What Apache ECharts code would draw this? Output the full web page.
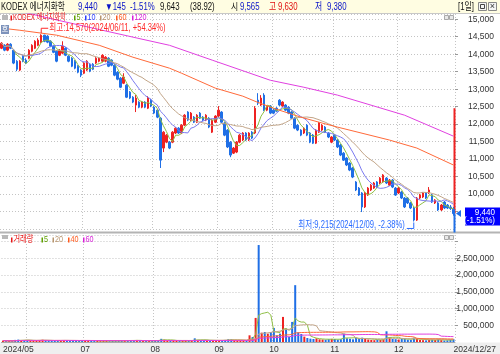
<!DOCTYPE html>
<html>
<head>
<meta charset="utf-8">
<script src="https://cdn.jsdelivr.net/npm/echarts@6/dist/echarts.min.js"></script>
<style>
html, body { margin: 0; padding: 0; background: #fff; }
#box { width: 500px; height: 354px; }
</style>
</head>
<body>
<div id="box"></div>
<script>
// 거래일 (월별)
var tradingDays = [
    { month: '2024/05', days: [22, 23, 24, 27, 28, 29, 30, 31] },
    { month: '2024/06', days: [3, 4, 5, 7, 10, 11, 12, 13, 14, 17, 18, 19, 20, 21, 24, 25, 26, 27, 28] },
    { month: '2024/07', days: [1, 2, 3, 4, 5, 8, 9, 10, 11, 12, 15, 16, 17, 18, 19, 22, 23, 24, 25, 26, 29, 30, 31] },
    { month: '2024/08', days: [1, 2, 5, 6, 7, 8, 9, 12, 13, 14, 16, 19, 20, 21, 22, 23, 26, 27, 28, 29, 30] },
    { month: '2024/09', days: [2, 3, 4, 5, 6, 9, 10, 11, 12, 13, 19, 20, 23, 24, 25, 26, 27, 30] },
    { month: '2024/10', days: [2, 4, 7, 8, 10, 11, 14, 15, 16, 17, 18, 21, 22, 23, 24, 25, 28, 29, 30, 31] },
    { month: '2024/11', days: [1, 4, 5, 6, 7, 8, 11, 12, 13, 14, 15, 18, 19, 20, 21, 22, 25, 26, 27, 28, 29] },
    { month: '2024/12', days: [2, 3, 4, 5, 6, 9, 10, 11, 12, 13, 16, 17, 18, 19, 20, 23, 24, 26, 27] }
];

// [시가, 종가, 저가, 고가]
var candles = [
    [14170, 14315, 14145, 14345], [14255, 14115, 14085, 14285], [14115, 14285, 14085, 14315], [14285, 14170, 14145, 14315],
    [14115, 13745, 13715, 14145], [13800, 13570, 13515, 13830], [13545, 13800, 13515, 13830], [13945, 13800, 13770, 13970],
    // 06
    [13830, 13745, 13715, 13885], [13885, 14115, 13855, 14145], [14085, 14255, 14055, 14285], [14170, 14370, 14145, 14400],
    [14255, 14400, 14230, 14455], [14345, 14545, 14315, 14570], [14545, 14370, 14345, 14555], [14515, 14345, 14315, 14545],
    [14370, 14230, 14200, 14400], [14230, 14055, 14030, 14255], [14085, 13800, 13770, 14115], [13970, 14115, 13945, 14145],
    [14030, 14230, 14000, 14370], [14170, 13970, 13945, 14200], [13945, 13800, 13770, 13970], [13885, 13655, 13630, 13915],
    [13800, 13600, 13570, 13830], [13655, 13485, 13455, 13685], [13545, 13400, 13345, 13570],
    // 07
    [13455, 13745, 13430, 13770], [13545, 13800, 13515, 13830], [13715, 13515, 13485, 13745], [13715, 13570, 13545, 13745],
    [13745, 13885, 13715, 13915], [13800, 13885, 13770, 13915], [13800, 13970, 13770, 14000], [13800, 13915, 13770, 13945],
    [13885, 13655, 13630, 13915], [13830, 13685, 13655, 13855], [13685, 13400, 13370, 13715], [13485, 13285, 13255, 13515],
    [13315, 13055, 13030, 13345], [13170, 13345, 13145, 13455], [13115, 12770, 12745, 13145], [12915, 12745, 12715, 12945],
    [12770, 12630, 12600, 12800], [12545, 12745, 12345, 12830], [12630, 12485, 12455, 12655], [12485, 12630, 12455, 12655],
    [12630, 12485, 12455, 12655], [12455, 12745, 12430, 12800], [12685, 12515, 12485, 12715],
    // 08
    [12485, 12315, 12285, 12515], [12400, 12200, 12170, 12430], [12170, 10970, 10745, 12200], [11315, 11770, 11200, 11800],
    [11485, 11685, 11455, 11715], [11485, 11315, 11285, 11515], [11485, 11770, 11455, 11800], [11745, 11885, 11715, 11915],
    [11885, 11745, 11715, 11915], [11745, 11970, 11715, 12000], [11970, 12255, 11945, 12285], [12345, 12115, 12085, 12370],
    [12115, 12315, 12085, 12345], [12200, 12055, 12030, 12230], [12055, 12255, 12030, 12285], [12315, 12170, 12145, 12345],
    [12200, 12115, 12085, 12230], [12115, 12255, 12085, 12285], [12170, 11915, 11885, 12200], [11770, 12115, 11745, 12145],
    [12055, 12230, 12030, 12255],
    // 09
    [12230, 12400, 12200, 12515], [12345, 12055, 12030, 12370], [12030, 11685, 11655, 12055], [11830, 11345, 11315, 11855],
    [11485, 11115, 11055, 11515], [11170, 11315, 11145, 11345], [11200, 11485, 11170, 11515], [11485, 11685, 11455, 11715],
    [11545, 11745, 11515, 11770], [11745, 11545, 11515, 11770], [11545, 11745, 11515, 11770], [11770, 11600, 11570, 11800],
    [11745, 12455, 11715, 12515], [12685, 12600, 12545, 12885], [12545, 12745, 12515, 12830], [12830, 12400, 12370, 12885],
    [12400, 12515, 12370, 12545], [12515, 12315, 12285, 12545],
    // 10
    [12400, 12315, 12285, 12430], [12455, 12370, 12345, 12485], [12685, 12545, 12515, 12715], [12515, 12630, 12485, 12655],
    [12545, 12400, 12370, 12570], [12485, 12315, 12285, 12515], [12345, 12170, 12145, 12370], [12170, 11885, 11855, 12200],
    [11970, 11830, 11800, 12000], [11830, 11685, 11655, 11855], [11745, 11885, 11715, 11915], [11970, 11685, 11655, 12000],
    [11745, 11485, 11455, 11770], [11685, 11455, 11430, 11715], [11455, 11830, 11430, 11855], [11770, 12030, 11745, 12055],
    [11830, 11970, 11800, 12000], [11915, 11770, 11745, 11945], [11745, 11630, 11600, 11770], [11485, 11630, 11455, 11655],
    // 11
    [11685, 11545, 11515, 11715], [11545, 11345, 11315, 11570], [11400, 11115, 11085, 11430], [11170, 10970, 10945, 11200],
    [11030, 10830, 10800, 11055], [10885, 10685, 10655, 10915], [10745, 10485, 10455, 10770], [10345, 10115, 10085, 10370],
    [10170, 9970, 9945, 10200], [10030, 9630, 9485, 10055], [9630, 10030, 9600, 10055], [9970, 10170, 9945, 10200],
    [10115, 10255, 10085, 10285], [10170, 10315, 10145, 10345], [10345, 10200, 10170, 10370], [10315, 10455, 10285, 10485],
    [10345, 10545, 10315, 10570], [10455, 10315, 10285, 10485], [10255, 10400, 10230, 10430], [10400, 10200, 10170, 10430],
    [10170, 9970, 9945, 10200],
    // 12
    [10030, 10170, 10000, 10200], [10055, 9885, 9855, 10085], [9885, 9630, 9600, 9915], [9885, 9745, 9715, 9915],
    [9745, 9600, 9570, 9770], [9600, 9255, 9215, 9630], [9255, 9885, 9230, 9915], [9885, 9970, 9855, 10000],
    [9915, 10030, 9885, 10055], [10030, 9885, 9855, 10055], [10030, 10115, 10000, 10200], [9970, 9770, 9745, 10000],
    [9745, 9830, 9715, 9855], [9745, 9545, 9515, 9770], [9545, 9685, 9515, 9715], [9770, 9600, 9570, 9800],
    [9685, 9600, 9570, 9715], [9630, 9585, 9545, 9685], [9565, 9440, 9380, 9630]
];

var volumes = [
    42000, 31000, 36000, 28000, 63000, 71000, 48000, 52000,
    60000, 45000, 38000, 41000, 55000, 68000, 47000, 35000, 33000, 39000, 52000, 44000, 58000, 37000, 34000, 41000, 36000, 43000, 49000,
    52000, 46000, 31000, 29000, 38000, 27000, 33000, 30000, 26000, 35000, 29000, 41000, 45000, 39000, 56000, 47000, 42000, 61000, 38000, 33000, 36000, 44000, 40000,
    47000, 58000, 95000, 72000, 48000, 41000, 39000, 35000, 30000, 33000, 45000, 38000, 52000, 110000, 62000, 57000, 48000, 44000, 51000, 46000, 40000,
    43000, 55000, 62000, 81000, 76000, 49000, 45000, 52000, 47000, 41000, 200000, 150000,
    720000, 2900000, 280000, 300000, 250000, 300000,
    420000, 200000, 250000, 750000, 400000, 150000, 600000, 1700000, 290000, 240000, 160000, 120000, 100000, 90000, 110000, 80000, 75000, 70000, 85000, 95000,
    90000, 70000, 85000, 250000, 110000, 95000, 80000, 120000, 90000, 130000, 100000, 75000, 60000, 55000, 70000, 65000, 80000, 320000, 140000, 90000, 85000,
    75000, 95000, 110000, 70000, 65000, 130000, 90000, 60000, 55000, 50000, 65000, 70000, 60000, 80000, 55000, 45000, 50000, 70000, 85000
];

// 60일 / 120일 이동평균 (차트에서 읽은 값, [인덱스, 가격])
var ma60Points = [[0, 14745], [6, 14685], [18, 14545], [32, 14255], [43, 13915], [55, 13600], [59, 13455],
    [70, 13030], [79, 12800], [83, 12655], [89, 12455], [98, 12200], [105, 12030], [110, 11915],
    [127, 11545], [136, 11315], [148, 10830]];
var ma120Points = [[0, 15350], [17, 15000], [46, 14430], [55, 14255], [69, 13830], [88, 13255],
    [99, 13055], [110, 12830], [132, 12255], [148, 11655]];

// 우측 가격 막대 (현재가 기준 위/아래)
var priceNow = 9440;
var rangeTop = 12455;
var rangeBottom = 8900;

var up = '#ee2222', down = '#1f6fe6';
var font = '"Liberation Sans", "Noto Sans CJK KR", sans-serif';

var dates = [];
tradingDays.forEach(function (m) {
    m.days.forEach(function (d) { dates.push(m.month + '/' + (d < 10 ? '0' + d : d)); });
});
var closes = candles.map(function (c) { return c[1]; });

function calcMA(n, arr) {
    return arr.map(function (v, i) {
        var s = 0, c = 0;
        for (var k = Math.max(0, i - n + 1); k <= i; k++) { s += arr[k]; c++; }
        return Math.round(s / c);
    });
}
function monthStart(index) {
    return index > 0 && dates[index].slice(0, 7) !== dates[index - 1].slice(0, 7);
}
function comma(v) { return Math.round(v).toLocaleString('en-US'); }

var gridLine = { show: true, lineStyle: { color: '#c4c4c4', type: [1, 2], width: 1 } };

var volData = volumes.map(function (v, i) {
    return { value: v, itemStyle: { color: candles[i][1] >= candles[i][0] ? up : down } };
});

function maLine(name, data, color, xi, yi) {
    return {
        name: name, type: 'line', data: data, xAxisIndex: xi, yAxisIndex: yi,
        symbol: 'none', connectNulls: true, silent: true,
        lineStyle: { width: 1, color: color }, itemStyle: { color: color }
    };
}

var myChart = echarts.init(document.getElementById('box'));
var option = {
    animation: false,
    backgroundColor: '#fff',
    grid: [
        { left: 0, right: 45, top: 14, height: 215 },
        { left: 0, right: 45, top: 235, height: 107 }
    ],
    xAxis: [
        {
            type: 'category', gridIndex: 0, data: dates,
            axisLine: { show: false }, axisTick: { show: false }, axisLabel: { show: false },
            splitLine: { show: true, interval: monthStart, lineStyle: gridLine.lineStyle }
        },
        {
            type: 'category', gridIndex: 1, data: dates,
            axisLine: { lineStyle: { color: '#a8a8a8' } }, axisTick: { show: false },
            axisLabel: {
                fontSize: 8.5, color: '#333', margin: 3, fontFamily: font,
                alignMinLabel: 'left', alignMaxLabel: 'left',
                interval: function (index) {
                    return index === 0 || index === dates.length - 1 ||
                        (monthStart(index) && dates[index].slice(5, 7) !== '06');
                },
                formatter: function (value, index) {
                    if (index === 0) return value.slice(0, 7);
                    if (index === dates.length - 1) return value;
                    return value.slice(5, 7);
                }
            },
            splitLine: { show: true, interval: monthStart, lineStyle: gridLine.lineStyle }
        }
    ],
    yAxis: [
        {
            type: 'value', gridIndex: 0, position: 'right', min: 9000, max: 15150, interval: 500,
            axisLine: { show: false },
            axisTick: { show: true, length: 3, lineStyle: { color: '#999' } },
            splitLine: gridLine,
            axisLabel: { showMinLabel: false, showMaxLabel: false, align: 'right', margin: 39,
                fontSize: 8.5, color: '#333', fontFamily: font, formatter: comma }
        },
        {
            type: 'value', gridIndex: 1, position: 'right', min: 0, max: 3200000, interval: 500000,
            axisLine: { show: false },
            axisTick: { show: true, length: 3, lineStyle: { color: '#999' } },
            splitLine: gridLine,
            axisLabel: { showMinLabel: false, showMaxLabel: false, align: 'right', margin: 39,
                fontSize: 8.5, color: '#333', fontFamily: font,
                formatter: function (v) { return v >= 3000000 ? '' : comma(v); } }
        }
    ],
    series: [
        maLine('5', calcMA(5, closes), '#8fbf45', 0, 0),
        maLine('10', calcMA(10, closes), '#7a7af0', 0, 0),
        maLine('20', calcMA(20, closes), '#c2a588', 0, 0),
        maLine('60', ma60Points, '#ff6a3a', 0, 0),
        maLine('120', ma120Points, '#e040e0', 0, 0),
        {
            name: 'KODEX 에너지화학', type: 'candlestick', data: candles,
            xAxisIndex: 0, yAxisIndex: 0, barWidth: 2, silent: true,
            itemStyle: { color: up, color0: down, borderColor: up, borderColor0: down, borderWidth: 1 }
        },
        {
            type: 'custom', xAxisIndex: 0, yAxisIndex: 0, clip: false, silent: true,
            encode: { x: 0, y: [1, 2] },
            data: [
                { value: [dates.length - 1, priceNow, rangeTop], itemStyle: { color: up } },
                { value: [dates.length - 1, rangeBottom, priceNow], itemStyle: { color: down } }
            ],
            renderItem: function (params, api) {
                var a = api.coord([api.value(0), api.value(1)]);
                var b = api.coord([api.value(0), api.value(2)]);
                var x = params.coordSys.x + params.coordSys.width - 0.5;
                return { type: 'line', shape: { x1: x, y1: a[1], x2: x, y2: b[1] },
                    style: { stroke: api.visual('color'), lineWidth: 2 } };
            }
        },
        {
            name: '거래량', type: 'bar', data: volData, xAxisIndex: 1, yAxisIndex: 1,
            barWidth: 2, silent: true
        },
        maLine('v5', calcMA(5, volumes), '#8fbf45', 1, 1),
        maLine('v20', calcMA(20, volumes), '#c2a588', 1, 1),
        maLine('v40', calcMA(40, volumes), '#ff6a3a', 1, 1),
        maLine('v60', calcMA(60, volumes), '#e040e0', 1, 1)
    ]
};
option && myChart.setOption(option);

// 텍스트 / 장식 -------------------------------------------------------------
function T(x, y, s, fill, size, sx, align) {
    return {
        type: 'text', x: x, y: y, scaleX: sx || 0.78, z: 100,
        style: { text: s, fill: fill, font: (size || 10) + 'px ' + font,
            align: align || 'left', verticalAlign: 'middle' }
    };
}
function R(x, y, w, h, fill, stroke, z) {
    return { type: 'rect', shape: { x: x, y: y, width: w, height: h }, z: z === undefined ? 100 : z,
        style: { fill: fill, stroke: stroke || null, lineWidth: 1 } };
}
function L(points, color) {
    return { type: 'polyline', shape: { points: points }, z: 100, style: { stroke: color, lineWidth: 1, fill: null } };
}

var g = [];
// 배경
g.push(R(0, 0, 500, 13.5, '#fffde2', null, -1));
g.push({ type: 'line', shape: { x1: 0, y1: 13.5, x2: 500, y2: 13.5 }, z: 1, style: { stroke: '#c8c8c8', lineWidth: 1 } });
g.push(R(0, 231.5, 500, 2, '#b4b4b4', null, 1));
g.push(R(0, 342.5, 500, 12, '#efefef', null, -1));

// 상단 시세줄
var tBlue = '#0a14c8', tRed = '#e01010', tBlack = '#111';
g.push(T(1, 7, 'KODEX 에너지화학', tBlack, 10, 0.76));
g.push(T(78, 7, '9,440', tBlue, 10));
g.push(T(105, 7, '▼145', tBlue, 10));
g.push(T(130, 7, '-1.51%', tBlue, 10));
g.push(T(160, 7, '9,643', tBlack, 10));
g.push(T(190, 7, '(38.92)', tBlack, 10));
g.push(T(231, 7, '시', tBlack, 10));
g.push(T(240, 7, '9,565', tBlue, 10));
g.push(T(269, 7, '고', tRed, 10));
g.push(T(278, 7, '9,630', tRed, 10));
g.push(T(315, 7, '저', tBlue, 10));
g.push(T(327, 7, '9,380', tBlue, 10));
g.push(T(458, 7, '[1일]', tBlack, 10));
g.push(R(478.5, 2.5, 8, 8, '#f4f4f4', '#888'));
g.push(R(480.5, 4.5, 4, 4, null, '#444'));
g.push(R(488.5, 2.5, 8, 8, '#f4f4f4', '#888'));
g.push(T(492.5, 6.5, '×', '#333', 9, 1, 'center'));

// 가격 범례
g.push(R(2, 15, 6, 5, '#b8b8b8', null));
g.push(R(10.5, 15.5, 1.5, 5, '#e81818'));
g.push(T(13, 18, 'KODEX 에너지화학', '#e81818', 9, 0.7));
var legend = [[74, '5', '#5fa000'], [85, '10', '#2a3cff'], [100, '20', '#b8956e'], [116, '60', '#ff5a1e'], [132, '120', '#d820d8']];
legend.forEach(function (it) {
    g.push(R(it[0], 15.5, 1.5, 5, it[2]));
    g.push(T(it[0] + 2.5, 18, it[1], it[2], 9, 0.8));
});
g.push(R(1, 25, 8, 9, '#7d93bb', null));
g.push(T(5, 29.5, '호', '#fff', 7, 1, 'center'));
g.push(R(444.5, 15.5, 4, 4, '#e8e8e8', '#aaa'));
g.push(R(449.5, 15.5, 4, 4, '#e8e8e8', '#aaa'));

// 거래량 범례
g.push(R(2, 235, 6, 4, '#b8b8b8', null));
g.push(R(11, 237.5, 1.5, 5, '#e81818'));
g.push(T(13.5, 240, '거래량', '#e81818', 9, 0.8));
var vlegend = [[41.5, '5', '#5fa000'], [52.5, '20', '#b8956e'], [68, '40', '#ff5a1e'], [83, '60', '#d820d8']];
vlegend.forEach(function (it) {
    g.push(R(it[0], 237.5, 1.5, 5, it[2]));
    g.push(T(it[0] + 2.5, 240, it[1], it[2], 9, 0.8));
});
g.push(R(444.5, 235.5, 4, 4, '#e8e8e8', '#aaa'));
g.push(R(449.5, 235.5, 4, 4, '#e8e8e8', '#aaa'));

// 최고 / 최저 표시
var hiIdx = 0, loIdx = 0;
candles.forEach(function (c, i) {
    if (c[3] > candles[hiIdx][3]) hiIdx = i;
    if (c[2] < candles[loIdx][2]) loIdx = i;
});
var hp = myChart.convertToPixel({ xAxisIndex: 0, yAxisIndex: 0 }, [dates[hiIdx], candles[hiIdx][3]]);
var lp = myChart.convertToPixel({ xAxisIndex: 0, yAxisIndex: 0 }, [dates[loIdx], candles[loIdx][2]]);
var hiColor = '#ff2a2a', loColor = '#2a6cff';
g.push(L([[hp[0], hp[1] - 1], [hp[0], hp[1] - 6], [hp[0] + 7, hp[1] - 6]], hiColor));
g.push(T(hp[0] + 8, hp[1] - 6, '최고:14,570(2024/06/11, +54.34%)', hiColor, 10, 0.76));
g.push(L([[lp[0], lp[1] + 1], [lp[0], lp[1] + 7], [lp[0] - 7, lp[1] + 7]], loColor));
g.push(T(lp[0] - 9, lp[1] + 4, '최저:9,215(2024/12/09, -2.38%)', loColor, 10, 0.76, 'right'));

// 현재가 박스
var np = myChart.convertToPixel({ xAxisIndex: 0, yAxisIndex: 0 }, [dates[dates.length - 1], priceNow]);
g.push({ type: 'polygon', z: 100, shape: { points: [[456, np[1]], [461, np[1] - 3.5], [461, np[1] + 3.5]] },
    style: { fill: down } });
g.push(R(465, np[1] - 6, 35, 18, '#0000ff', null));
g.push(T(495, np[1] - 1, '9,440', '#fff', 9.5, 0.85, 'right'));
g.push(T(495, np[1] + 7, '(-1.51%)', '#fff', 9.5, 0.85, 'right'));

myChart.setOption({ graphic: { elements: g } });
</script>
</body>
</html>
